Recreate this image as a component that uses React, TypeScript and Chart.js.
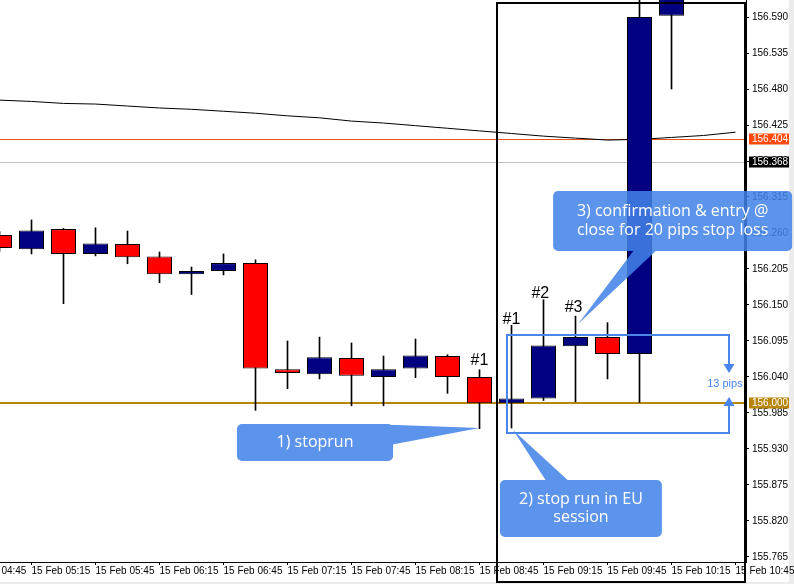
import React, { useEffect, useRef } from "react";
import { Chart, registerables } from "chart.js";

Chart.register(...registerables);

// ---------- DATA ----------
const candleTimes = [
  "05:00", "05:15", "05:30", "05:45", "06:00", "06:15", "06:30", "06:45",
  "07:00", "07:15", "07:30", "07:45", "08:00", "08:15", "08:30", "08:45",
  "09:00", "09:15", "09:30", "09:45", "10:00", "10:15",
];
const openPrices = [
  156.257, 156.235, 156.266, 156.228, 156.243, 156.224, 156.197, 156.202,
  156.214, 156.052, 156.044, 156.069, 156.040, 156.053, 156.072, 156.040,
  156.000, 156.007, 156.087, 156.101, 156.075, 156.592,
];
const highPrices = [
  156.262, 156.280, 156.267, 156.268, 156.263, 156.231, 156.208, 156.228,
  156.219, 156.095, 156.101, 156.092, 156.072, 156.098, 156.074, 156.051,
  156.119, 156.158, 156.133, 156.123, 156.640, 156.720,
];
const lowPrices = [
  156.232, 156.228, 156.152, 156.225, 156.213, 156.184, 156.166, 156.196,
  155.989, 156.022, 156.037, 155.996, 155.996, 156.039, 156.015, 155.961,
  155.962, 156.004, 156.002, 156.037, 156.001, 156.480,
];
const closePrices = [
  156.237, 156.264, 156.228, 156.244, 156.223, 156.197, 156.202, 156.214,
  156.053, 156.046, 156.070, 156.042, 156.052, 156.073, 156.040, 156.000,
  156.007, 156.088, 156.101, 156.075, 156.590, 156.700,
];
const maTimes = [...candleTimes, "10:30", "10:45"];
const maValues = [
  156.463, 156.461, 156.458, 156.457, 156.454, 156.451, 156.449, 156.446,
  156.443, 156.439, 156.436, 156.431, 156.428, 156.424, 156.420, 156.416,
  156.412, 156.408, 156.405, 156.402, 156.403, 156.406, 156.409, 156.414,
];
const xTickTimes = [
  "04:45", "05:15", "05:45", "06:15", "06:45", "07:15", "07:45",
  "08:15", "08:45", "09:15", "09:45", "10:15", "10:45",
];
const xTickLabels = xTickTimes.map((t) => "15 Feb " + t);
const yTickValues = [
  155.765, 155.82, 155.875, 155.93, 155.985, 156.04, 156.095, 156.15,
  156.205, 156.26, 156.315, 156.37, 156.425, 156.48, 156.535, 156.59,
];
// visible window (in 15-minute slots from 05:00, and in price)
const viewStart = 0.0156;
const viewEnd = 23.328;
const priceMin = 155.7573;
const priceMax = 156.616;

// horizontal price levels: gold stop level, bid line, ask line
const levelPrices = [156.0, 156.404, 156.368];

// annotations (slot, price coordinates)
const frameBox = { from: 15.55, to: 23.3, top: 156.611, bottom: 155.727 };
const pipsBox = { from: 15.86, to: 22.8, top: 156.104, bottom: 155.955, arrowTop: 156.046, arrowBottom: 156.0094 };
const pipsText = { slot: 22.67, price: 156.0293, text: "13 pips" };
const candleMarks = [
  { slot: 15.0, price: 156.0644, text: "#1" },
  { slot: 16.0, price: 156.127, text: "#1" },
  { slot: 16.9, price: 156.1676, text: "#2" },
  { slot: 17.94, price: 156.1454, text: "#3" },
];
const callouts = [
  {
    lines: ["1) stoprun"],
    box: [7.42, 12.3, 155.968, 155.9116],
    pointer: [[12.2, 155.967], [15.0, 155.962], [12.2, 155.936]],
  },
  {
    lines: ["2) stop run in EU", "session"],
    box: [15.64, 20.7, 155.8826, 155.7955],
    pointer: [[17.11, 155.879], [16.05, 155.959], [17.83, 155.879]],
  },
  {
    lines: ["3) confirmation & entry @", "close for 20 pips stop loss"],
    box: [17.3, 24.77, 156.3242, 156.2325],
    pointer: [[19.86, 156.236], [20.58, 156.236], [18.08, 156.121]],
  },
];

// ---------- STYLE ----------
const BULL = "#000080";
const BEAR = "#ff0000";
const levelColors = ["#b8860b", "#e8521e", "#c0c0c0"];
const levelWidths = [2, 1, 1];
const tagColors = ["#b8860b", "#ff4a0a", "#000000"];
const BOX_BLUE = "#4a86e8";
const CALLOUT_FILL = "rgba(66,130,232,0.86)";
const AXIS_FONT = "Liberation Sans";

function slot(t: string) {
  const [h, m] = t.split(":").map(Number);
  return (h * 60 + m - 300) / 15;
}

const annotPlugin = {
  id: "annot",
  beforeDraw(chart: any) {
    const { ctx, width, height } = chart;
    ctx.save();
    ctx.fillStyle = "#ffffff";
    ctx.fillRect(0, 0, width, height);
    ctx.fillStyle = "#ececec";
    ctx.fillRect(789, 0, width - 789, height);
    ctx.fillRect(0, 582, width, height - 582);
    ctx.restore();
  },
  beforeDatasetsDraw(chart: any) {
    const { ctx, chartArea, scales } = chart;
    ctx.save();
    levelPrices.forEach((p, i) => {
      const w = levelWidths[i];
      let py = Math.round(scales.y.getPixelForValue(p));
      if (w % 2 === 1) py += 0.5;
      ctx.strokeStyle = levelColors[i];
      ctx.lineWidth = w;
      ctx.beginPath();
      ctx.moveTo(chartArea.left, py);
      ctx.lineTo(chartArea.right, py);
      ctx.stroke();
    });
    ctx.restore();
  },
  afterDraw(chart: any) {
    const { ctx, scales } = chart;
    const X = (s: number) => scales.x.getPixelForValue(s);
    const Y = (p: number) => scales.y.getPixelForValue(p);
    ctx.save();

    // price tags on the axis
    ctx.font = `10px "${AXIS_FONT}"`;
    ctx.textBaseline = "middle";
    ctx.textAlign = "left";
    levelPrices.forEach((p, i) => {
      const py = Math.round(Y(p));
      ctx.fillStyle = tagColors[i];
      ctx.fillRect(749, py - 5.5, 40, 11);
      ctx.fillStyle = "#ffffff";
      ctx.fillText(p.toFixed(3), 752, py);
    });

    // black frame
    ctx.strokeStyle = "#000";
    ctx.lineWidth = 2;
    const fx0 = Math.round(X(frameBox.from));
    const fx1 = Math.round(X(frameBox.to));
    const fy0 = Math.round(Y(frameBox.top));
    const fy1 = Math.round(Y(frameBox.bottom));
    ctx.strokeRect(fx0, fy0, fx1 - fx0, fy1 - fy0);

    // pips box
    const bx0 = Math.round(X(pipsBox.from));
    const bx1 = Math.round(X(pipsBox.to));
    const by0 = Math.round(Y(pipsBox.top));
    const by1 = Math.round(Y(pipsBox.bottom));
    const aT = Y(pipsBox.arrowTop);
    const aB = Y(pipsBox.arrowBottom);
    ctx.strokeStyle = BOX_BLUE;
    ctx.lineWidth = 2;
    ctx.beginPath();
    ctx.moveTo(bx1, aT - 8);
    ctx.lineTo(bx1, by0);
    ctx.lineTo(bx0, by0);
    ctx.lineTo(bx0, by1);
    ctx.lineTo(bx1, by1);
    ctx.lineTo(bx1, aB + 8);
    ctx.stroke();
    ctx.fillStyle = BOX_BLUE;
    ctx.beginPath();
    ctx.moveTo(bx1, aT);
    ctx.lineTo(bx1 - 5.5, aT - 9);
    ctx.lineTo(bx1 + 5.5, aT - 9);
    ctx.closePath();
    ctx.fill();
    ctx.beginPath();
    ctx.moveTo(bx1, aB);
    ctx.lineTo(bx1 - 5.5, aB + 9);
    ctx.lineTo(bx1 + 5.5, aB + 9);
    ctx.closePath();
    ctx.fill();
    ctx.font = `11px "${AXIS_FONT}"`;
    ctx.textAlign = "center";
    ctx.textBaseline = "middle";
    ctx.fillText(pipsText.text, X(pipsText.slot), Y(pipsText.price));

    // candle marks
    ctx.fillStyle = "#000";
    ctx.font = `16px "${AXIS_FONT}"`;
    candleMarks.forEach((m) => ctx.fillText(m.text, X(m.slot), Y(m.price)));

    // callouts
    callouts.forEach((c) => {
      const x0 = X(c.box[0]);
      const x1 = X(c.box[1]);
      const y0 = Y(c.box[2]);
      const y1 = Y(c.box[3]);
      let pts = c.pointer.map(([s, p]) => [X(s), Y(p)]);
      const area =
        (pts[1][0] - pts[0][0]) * (pts[2][1] - pts[0][1]) -
        (pts[2][0] - pts[0][0]) * (pts[1][1] - pts[0][1]);
      if (area < 0) pts = pts.reverse();
      ctx.beginPath();
      ctx.roundRect(x0, y0, x1 - x0, y1 - y0, 5);
      ctx.moveTo(pts[0][0], pts[0][1]);
      ctx.lineTo(pts[1][0], pts[1][1]);
      ctx.lineTo(pts[2][0], pts[2][1]);
      ctx.closePath();
      ctx.fillStyle = CALLOUT_FILL;
      ctx.fill("nonzero");
      ctx.fillStyle = "#ffffff";
      ctx.font = `16px "Open Sans"`;
      ctx.textAlign = "center";
      ctx.textBaseline = "middle";
      const cx = (x0 + x1) / 2;
      const cy = (y0 + y1) / 2;
      const gap = c.lines.length > 1 ? (y1 - y0) / 3.1 : 0;
      c.lines.forEach((ln, i) => {
        ctx.fillText(ln, cx, cy + (i - (c.lines.length - 1) / 2) * gap);
      });
    });

    ctx.restore();
  },
};

export default function App() {
  const ref = useRef<HTMLCanvasElement>(null);

  useEffect(() => {
    const canvas = ref.current;
    if (!canvas) return;
    const bodies = candleTimes.map((t, i) => ({ x: slot(t), y: [openPrices[i], closePrices[i]] }));
    const wicks = candleTimes.map((t, i) => ({ x: slot(t), y: [lowPrices[i], highPrices[i]] }));
    const ma = maTimes.map((t, i) => ({ x: slot(t), y: maValues[i] }));
    const bodyColors = candleTimes.map((_, i) => (closePrices[i] >= openPrices[i] ? BULL : BEAR));

    const tickFont = { family: AXIS_FONT, size: 10 };
    const chart = new Chart(canvas, {
      type: "bar",
      data: {
        datasets: [
          {
            type: "bar",
            data: bodies as any,
            backgroundColor: bodyColors,
            borderColor: "#000",
            borderWidth: 1,
            borderSkipped: false,
            barThickness: 25,
            grouped: false,
            inflateAmount: 0,
            clip: 0,
          } as any,
          {
            type: "bar",
            data: wicks as any,
            backgroundColor: "#000",
            borderWidth: 0,
            barThickness: 1,
            grouped: false,
            clip: 0,
          } as any,
          {
            type: "line",
            data: ma as any,
            borderColor: "#000",
            borderWidth: 1,
            pointRadius: 0,
            tension: 0,
            fill: false,
            clip: 0,
          } as any,
        ],
      },
      options: {
        animation: false,
        responsive: false,
        events: [],
        layout: { padding: 0 },
        plugins: { legend: { display: false }, tooltip: { enabled: false } },
        scales: {
          x: {
            type: "linear",
            min: viewStart,
            max: viewEnd,
            bounds: "data",
            offset: false,
            grid: { offset: false, drawOnChartArea: false, drawTicks: true, tickLength: 3, color: "#000" },
            border: { display: true, color: "#000", width: 1 },
            ticks: {
              autoSkip: false,
              maxRotation: 0,
              minRotation: 0,
              align: "start",
              padding: 0,
              color: "#000",
              font: tickFont,
              callback: (_v: any, i: number) => xTickLabels[i] ?? "",
            },
            afterBuildTicks: (s: any) => {
              s.ticks = xTickTimes.map((t) => ({ value: slot(t) }));
            },
            afterFit: (s: any) => {
              s.height = 22;
              s.paddingLeft = 0;
              s.paddingRight = 0;
            },
          } as any,
          y: {
            type: "linear",
            position: "right",
            min: priceMin,
            max: priceMax,
            beginAtZero: false,
            bounds: "data",
            grid: { drawOnChartArea: false, drawTicks: true, tickLength: 3, color: "#000" },
            border: { display: true, color: "#000", width: 1 },
            ticks: {
              padding: 3,
              color: "#000",
              font: tickFont,
              autoSkip: false,
              callback: (v: any) => Number(v).toFixed(3),
            },
            afterBuildTicks: (s: any) => {
              s.ticks = yTickValues.map((v) => ({ value: v }));
            },
            afterFit: (s: any) => {
              s.width = 48;
              s.paddingTop = 0;
              s.paddingBottom = 0;
            },
          } as any,
        },
      },
      plugins: [annotPlugin],
    } as any);

    return () => chart.destroy();
  }, []);

  return (
    <div style={{ position: "fixed", left: 0, top: 0, width: 794, height: 584, overflow: "hidden", background: "#fff" }}>
      <canvas ref={ref} width={794} height={584} style={{ display: "block", width: 794, height: 584 }} />
    </div>
  );
}
